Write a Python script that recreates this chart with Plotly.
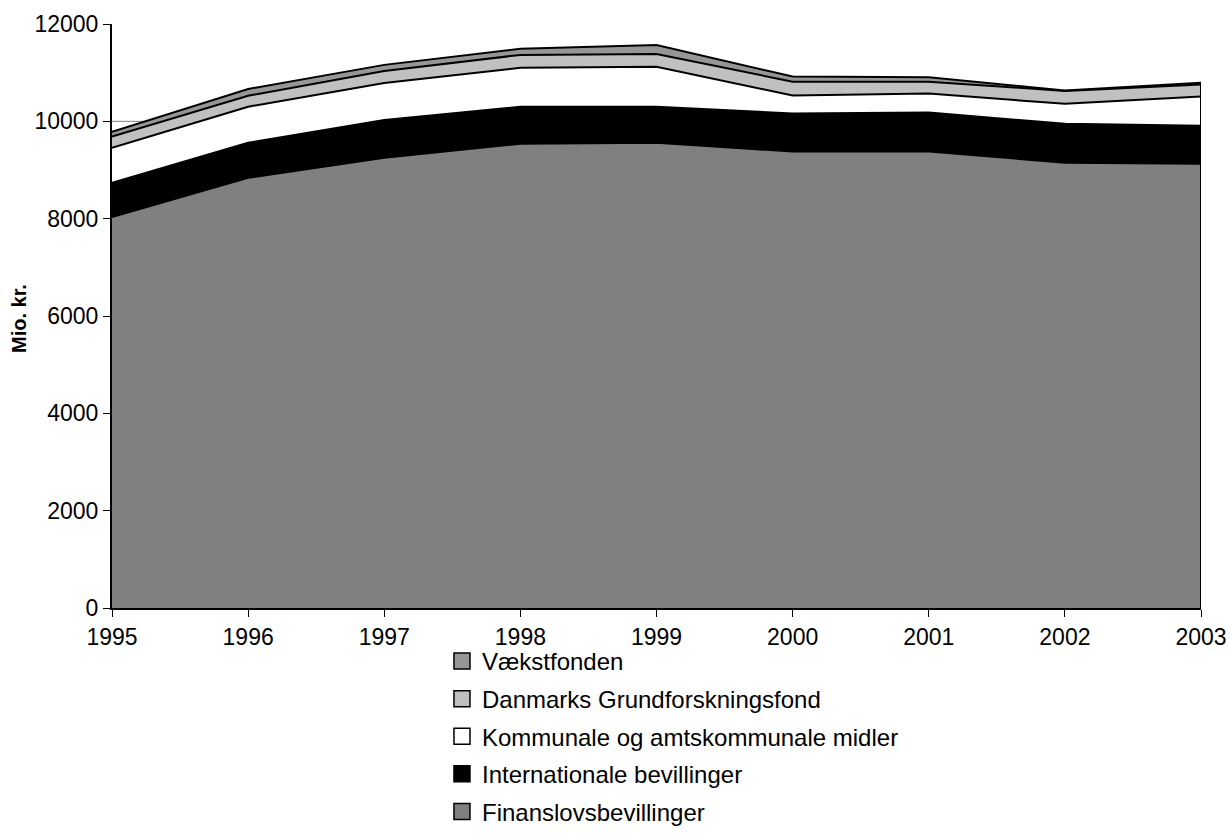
import plotly.graph_objects as go

years = [1995, 1996, 1997, 1998, 1999, 2000, 2001, 2002, 2003]
finanslov = [8035, 8840, 9250, 9540, 9560, 9380, 9380, 9150, 9130]
internationale = [700, 720, 780, 760, 740, 780, 800, 800, 780]
kommunale = [720, 740, 760, 800, 820, 370, 390, 410, 600]
grundforsk = [230, 225, 245, 265, 265, 285, 245, 265, 245]
vaekst = [100, 140, 125, 125, 185, 105, 90, 10, 40]

series = [
    ("Finanslovsbevillinger", finanslov, "#808080"),
    ("Internationale bevillinger", internationale, "#000000"),
    ("Kommunale og amtskommunale midler", kommunale, "#FFFFFF"),
    ("Danmarks Grundforskningsfond", grundforsk, "#C0C0C0"),
    ("Vækstfonden", vaekst, "#969696"),
]

FONT = "Liberation Sans, Arial, sans-serif"
fig = go.Figure()

for name, vals, col in series:
    fig.add_trace(go.Scatter(
        x=years, y=vals, name=name, stackgroup="one", mode="lines",
        line=dict(color="black", width=2), fillcolor=col,
        showlegend=False, hoverinfo="x+y+name",
    ))

# right edge outline of the stacked areas
total_last = sum(s[1][-1] for s in series)
fig.add_trace(go.Scatter(
    x=[years[-1], years[-1]], y=[0, total_last], mode="lines",
    line=dict(color="black", width=2), showlegend=False, hoverinfo="skip",
))

# legend entries (square swatches), top to bottom as in the reference
for name, vals, col in reversed(series):
    fig.add_trace(go.Scatter(
        x=[None], y=[None], name=name, mode="markers", legendgroup=name,
        marker=dict(symbol="square", size=17, color=col,
                    line=dict(color="black", width=1.5)),
        showlegend=True,
    ))

fig.add_shape(type="line", xref="x", yref="y", x0=years[0], x1=years[-1],
              y0=10000, y1=10000, layer="below",
              line=dict(color="#808080", width=1))

fig.add_annotation(
    text="<b>Mio. kr.</b>", textangle=-90, xref="paper", yref="paper",
    x=-0.0854, y=0.4966, xanchor="center", yanchor="middle", showarrow=False,
    font=dict(family=FONT, size=20, color="black"),
)

fig.update_layout(
    width=1230, height=839,
    margin=dict(l=112, r=29, t=24, b=231, autoexpand=False),
    paper_bgcolor="white", plot_bgcolor="white",
    font=dict(family=FONT, color="black", size=23),
    showlegend=True,
    legend=dict(
        x=0.303, y=-0.053, xanchor="left", yanchor="top",
        font=dict(family=FONT, size=24, color="black"),
        traceorder="grouped", tracegroupgap=3.4,
        bgcolor="rgba(0,0,0,0)", itemwidth=30,
    ),
    xaxis=dict(
        range=[years[0], years[-1]], tickmode="array", tickvals=years,
        ticktext=[str(y) for y in years],
        showgrid=False, zeroline=False, showline=True,
        linecolor="black", linewidth=2, ticks="outside", ticklen=7,
        tickcolor="black", tickwidth=1, tickfont=dict(size=23),
    ),
    yaxis=dict(
        range=[0, 12000], tickmode="linear", tick0=0, dtick=2000,
        tickformat="d",
        showgrid=False, zeroline=False, showline=True,
        linecolor="black", linewidth=2, ticks="outside", ticklen=7,
        tickcolor="black", tickwidth=1, tickfont=dict(size=23),
    ),
)

# remove the default 8px page margin so the figure fills the window exactly
fig.write_html("out.html",
               config={"displayModeBar": False},
               post_script="document.body.style.margin='0px';"
                           "document.body.style.overflow='hidden';")
